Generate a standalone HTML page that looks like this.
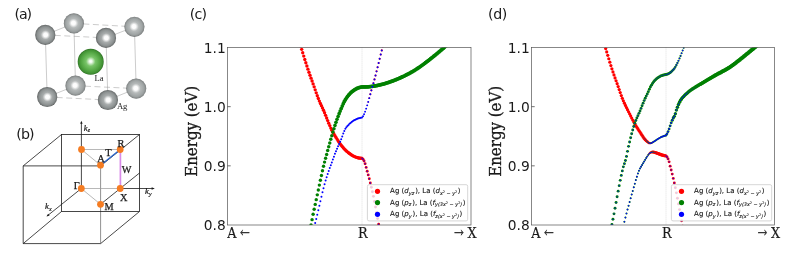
<!DOCTYPE html><html><head><meta charset="utf-8"><title>figure</title><style>html,body{margin:0;padding:0;background:#fff}
svg{display:block}
text{fill:#1a1a1a}
.pl{font-family:"DejaVu Sans","Liberation Sans",sans-serif;font-size:14.2px}
.tk{font-family:"DejaVu Sans","Liberation Sans",sans-serif;font-size:13.8px}
.xl{font-family:"DejaVu Serif Condensed","DejaVu Serif","Liberation Serif",serif;font-stretch:condensed;font-size:14.2px;stroke:#1a1a1a;stroke-width:0.2px}
.yl{font-family:"DejaVu Serif Condensed","DejaVu Serif","Liberation Serif",serif;font-stretch:condensed;font-size:16.7px;stroke:#1a1a1a;stroke-width:0.3px}
.ar{font-size:13px;fill:#333;stroke:#333;stroke-width:0.35px}
.lg{font-family:"DejaVu Sans","Liberation Sans",sans-serif;font-size:7px;stroke:#1a1a1a;stroke-width:0.12px}
.lg .it{font-style:italic}
.lg .sb{font-style:italic;font-size:4.9px}
.lg .ss{font-size:3.4px}
.at{font-family:"Liberation Serif",serif;font-size:8.6px}
.bt{font-family:"Liberation Serif",serif;font-size:10.3px;stroke:#1a1a1a;stroke-width:0.25px}
.kt{font-family:"Liberation Serif",serif;font-size:8.8px;font-style:italic;stroke:#1a1a1a;stroke-width:0.2px}
.ks{font-size:6px}
</style></head><body><svg width="793" height="265" viewBox="0 0 793 265"><rect width="793" height="265" fill="#fff"/><defs>
<radialGradient id="gF" cx="0.5" cy="0.5" r="0.5" fx="0.52" fy="0.5">
<stop offset="0" stop-color="#ffffff"/><stop offset="0.2" stop-color="#fafafa"/><stop offset="0.46" stop-color="#a8acac"/><stop offset="0.8" stop-color="#8c9191"/><stop offset="0.93" stop-color="#747878"/><stop offset="1" stop-color="#505353"/>
</radialGradient>
<radialGradient id="gB" cx="0.5" cy="0.5" r="0.5" fx="0.47" fy="0.48">
<stop offset="0" stop-color="#ffffff"/><stop offset="0.2" stop-color="#fbfbfb"/><stop offset="0.46" stop-color="#b6baba"/><stop offset="0.8" stop-color="#9ea3a3"/><stop offset="0.93" stop-color="#898d8d"/><stop offset="1" stop-color="#6c7070"/>
</radialGradient>
<radialGradient id="gL" cx="0.5" cy="0.5" r="0.5" fx="0.5" fy="0.48">
<stop offset="0" stop-color="#ffffff"/><stop offset="0.1" stop-color="#f0faee"/><stop offset="0.36" stop-color="#78c468"/><stop offset="0.7" stop-color="#55a845"/><stop offset="0.92" stop-color="#3f8f32"/><stop offset="1" stop-color="#2a6a20"/>
</radialGradient>
</defs><line x1="73.9" y1="23.4" x2="134.4" y2="26.8" stroke="#999" stroke-width="0.5" stroke-dasharray="6 3.5"/><line x1="75.5" y1="85.7" x2="136.2" y2="88.6" stroke="#999" stroke-width="0.5" stroke-dasharray="6 3.5"/><line x1="73.9" y1="23.4" x2="75.5" y2="85.7" stroke="#999" stroke-width="0.5"/><line x1="134.4" y1="26.8" x2="136.2" y2="88.6" stroke="#999" stroke-width="0.5"/><line x1="45.3" y1="34.9" x2="73.9" y2="23.4" stroke="#999" stroke-width="0.5"/><line x1="106.0" y1="37.9" x2="134.4" y2="26.8" stroke="#999" stroke-width="0.5"/><line x1="47.2" y1="97.0" x2="75.5" y2="85.7" stroke="#999" stroke-width="0.5"/><line x1="107.9" y1="100.0" x2="136.2" y2="88.6" stroke="#999" stroke-width="0.5"/><circle cx="73.9" cy="23.4" r="10.1" fill="url(#gB)"/><circle cx="134.4" cy="26.8" r="10.1" fill="url(#gB)"/><circle cx="75.5" cy="85.7" r="10.1" fill="url(#gB)"/><circle cx="136.2" cy="88.6" r="10.1" fill="url(#gB)"/><circle cx="90.7" cy="61.8" r="13.0" fill="url(#gL)"/><line x1="45.3" y1="34.9" x2="106.0" y2="37.9" stroke="#999" stroke-width="0.5" stroke-dasharray="6 3.5"/><line x1="47.2" y1="97.0" x2="107.9" y2="100.0" stroke="#999" stroke-width="0.5" stroke-dasharray="6 3.5"/><line x1="45.3" y1="34.9" x2="47.2" y2="97.0" stroke="#999" stroke-width="0.5"/><line x1="106.0" y1="37.9" x2="107.9" y2="100.0" stroke="#999" stroke-width="0.5"/><circle cx="45.3" cy="34.9" r="10.1" fill="url(#gF)"/><circle cx="106.0" cy="37.9" r="10.1" fill="url(#gF)"/><circle cx="47.2" cy="97.0" r="10.1" fill="url(#gF)"/><circle cx="107.9" cy="100.0" r="10.1" fill="url(#gF)"/><text x="94.5" y="80.8" class="at">La</text><text x="116.9" y="109.3" class="at">Ag</text><text x="14.6" y="18.7" class="pl" style="letter-spacing:-1.1px">(a)</text><g stroke="#1a1a1a" stroke-width="0.8" fill="none"><path d="M100.6 165.9L23.2 165.9L23.2 243.6L100.6 243.6"/><path d="M100.6 165.9L100.6 243.6" stroke-width="0.6" stroke="#444"/><rect x="61.5" y="134.5" width="78.0" height="77.0"/><path d="M23.2 165.9L61.5 134.5M100.6 165.9L139.5 134.5M23.2 243.6L61.5 211.5M100.6 243.6L139.5 211.5"/><path d="M100.5 204.3L120.2 188.5L139.5 173.0"/><path d="M81.4 188.5L81.4 122"/><path d="M120.2 188.5L153.5 188.5"/><path d="M81.3 188.5L47.5 215.7" stroke-width="0.8"/></g><path d="M81.4 120.8L80.2 123.8L82.6 123.8Z" fill="#1a1a1a"/><path d="M154.8 188.5L151.6 187.3L151.6 189.7Z" fill="#1a1a1a"/><path d="M46.5 216.5L49.6 215.6L48.1 213.8Z" fill="#1a1a1a"/><g stroke="#9a9a9a" stroke-width="0.7" fill="none"><path d="M81.4 149.5L120.2 149.5M81.4 149.5L100.5 165.2M81.3 188.5L120.2 188.5M81.3 188.5L100.5 204.3"/></g><line x1="100.5" y1="165.2" x2="120.2" y2="149.5" stroke="#2b66cc" stroke-width="1.3"/><line x1="120.4" y1="149.5" x2="120.4" y2="188.5" stroke="#d98be8" stroke-width="1.7"/><circle cx="81.5" cy="149.5" r="3.4" fill="#f57c22"/><circle cx="120.2" cy="149.5" r="3.4" fill="#f57c22"/><circle cx="100.5" cy="165.2" r="3.4" fill="#f57c22"/><circle cx="81.3" cy="188.5" r="3.4" fill="#f57c22"/><circle cx="120.2" cy="188.5" r="3.4" fill="#f57c22"/><circle cx="100.5" cy="204.3" r="3.4" fill="#f57c22"/><text x="117.4" y="146.8" class="bt">R</text><text x="105.2" y="156.3" class="bt">T</text><text x="97.3" y="162.2" class="bt">A</text><text x="121.8" y="173.1" class="bt">W</text><text x="120.0" y="201.4" class="bt">X</text><text x="104.4" y="210.4" class="bt">M</text><text x="73.8" y="189.0" class="bt">Γ</text><text x="83.8" y="130.8" class="kt">k<tspan class="ks" dy="1.3">z</tspan></text><text x="145.0" y="194.3" class="kt">k<tspan class="ks" dy="1.3">y</tspan></text><text x="45.0" y="209.3" class="kt">k<tspan class="ks" dy="1.3">x</tspan></text><text x="16.3" y="139.1" class="pl" style="letter-spacing:-0.9px">(b)</text><clipPath id="cp0"><rect x="227.5" y="47.5" width="243.5" height="177.5"/></clipPath><line x1="362.0" y1="47.5" x2="362.0" y2="225.0" stroke="#c8c8c8" stroke-width="0.7" stroke-dasharray="0.8 1.2"/><g clip-path="url(#cp0)"><g fill="#ff0000"><circle cx="300.64" cy="45.87" r="1.68"/><circle cx="301.68" cy="49.31" r="1.68"/><circle cx="302.72" cy="52.72" r="1.68"/><circle cx="303.76" cy="56.11" r="1.68"/><circle cx="304.80" cy="59.45" r="1.68"/><circle cx="305.84" cy="62.75" r="1.68"/><circle cx="306.88" cy="65.99" r="1.68"/><circle cx="307.92" cy="69.16" r="1.68"/><circle cx="308.96" cy="72.24" r="1.68"/><circle cx="310.00" cy="75.23" r="1.68"/><circle cx="311.04" cy="78.15" r="1.68"/><circle cx="312.08" cy="81.05" r="1.68"/><circle cx="313.12" cy="83.94" r="1.68"/><circle cx="314.16" cy="86.87" r="1.68"/><circle cx="315.20" cy="89.86" r="1.68"/><circle cx="316.24" cy="92.85" r="1.68"/><circle cx="317.28" cy="95.76" r="1.68"/><circle cx="318.32" cy="98.54" r="1.68"/><circle cx="319.36" cy="101.11" r="1.68"/><circle cx="320.40" cy="103.46" r="1.68"/><circle cx="321.44" cy="105.69" r="1.68"/><circle cx="322.48" cy="107.93" r="1.68"/><circle cx="323.52" cy="110.28" r="1.68"/><circle cx="324.56" cy="112.77" r="1.68"/><circle cx="325.60" cy="115.35" r="1.68"/><circle cx="326.64" cy="117.96" r="1.68"/><circle cx="327.68" cy="120.57" r="1.68"/><circle cx="328.72" cy="123.14" r="1.68"/><circle cx="329.76" cy="125.61" r="1.68"/><circle cx="330.80" cy="128.06" r="1.68"/><circle cx="331.84" cy="130.28" r="1.68"/><circle cx="332.88" cy="132.23" r="1.68"/><circle cx="333.92" cy="134.04" r="1.68"/><circle cx="334.96" cy="135.75" r="1.68"/><circle cx="336.00" cy="137.42" r="1.68"/><circle cx="337.04" cy="139.09" r="1.68"/><circle cx="338.08" cy="140.74" r="1.68"/><circle cx="339.12" cy="142.33" r="1.68"/><circle cx="340.16" cy="143.84" r="1.68"/><circle cx="341.20" cy="145.22" r="1.68"/><circle cx="342.24" cy="146.52" r="1.68"/><circle cx="343.28" cy="147.75" r="1.68"/><circle cx="344.32" cy="148.90" r="1.68"/><circle cx="345.36" cy="149.96" r="1.68"/><circle cx="346.40" cy="150.95" r="1.68"/><circle cx="347.44" cy="151.87" r="1.68"/><circle cx="348.48" cy="152.74" r="1.68"/><circle cx="349.52" cy="153.53" r="1.68"/><circle cx="350.56" cy="154.26" r="1.68"/><circle cx="351.60" cy="154.96" r="1.68"/><circle cx="352.64" cy="155.60" r="1.68"/><circle cx="353.68" cy="156.17" r="1.68"/><circle cx="354.72" cy="156.63" r="1.68"/><circle cx="355.76" cy="157.06" r="1.68"/><circle cx="356.80" cy="157.44" r="1.68"/><circle cx="357.84" cy="157.76" r="1.68"/><circle cx="358.88" cy="157.98" r="1.68"/><circle cx="359.92" cy="158.13" r="1.68"/><circle cx="360.96" cy="158.25" r="1.68"/></g><g fill="#ff0000"><circle cx="362.00" cy="158.30" r="1.45"/><circle cx="363.04" cy="159.29" r="1.45"/><circle cx="364.08" cy="161.05" r="1.45"/><circle cx="365.12" cy="163.74" r="1.45"/><circle cx="366.16" cy="167.41" r="1.45"/><circle cx="367.20" cy="171.20" r="1.45"/><circle cx="368.24" cy="174.92" r="1.45"/><circle cx="369.28" cy="178.81" r="1.45"/><circle cx="370.32" cy="182.93" r="1.45"/><circle cx="371.36" cy="187.25" r="1.45"/><circle cx="372.40" cy="191.70" r="1.45"/><circle cx="373.44" cy="196.35" r="1.45"/><circle cx="374.48" cy="201.39" r="1.45"/><circle cx="375.52" cy="206.93" r="1.45"/><circle cx="376.56" cy="212.75" r="1.45"/><circle cx="377.60" cy="218.59" r="1.45"/><circle cx="378.64" cy="224.19" r="1.45"/></g><g fill="#ff0000"><circle cx="365.12" cy="111.66" r="0.20"/><circle cx="366.16" cy="108.65" r="0.38"/><circle cx="367.20" cy="105.34" r="0.56"/><circle cx="368.24" cy="101.89" r="0.74"/><circle cx="369.28" cy="98.13" r="0.92"/><circle cx="370.32" cy="94.19" r="1.05"/><circle cx="371.36" cy="90.34" r="1.05"/><circle cx="372.40" cy="86.78" r="1.05"/><circle cx="373.44" cy="83.23" r="1.05"/><circle cx="374.48" cy="79.42" r="1.05"/><circle cx="375.52" cy="75.45" r="1.05"/><circle cx="376.56" cy="71.36" r="1.05"/><circle cx="377.60" cy="67.18" r="1.05"/><circle cx="378.64" cy="62.96" r="1.05"/><circle cx="379.68" cy="58.73" r="1.05"/><circle cx="380.72" cy="54.53" r="1.05"/><circle cx="381.76" cy="50.39" r="1.05"/><circle cx="382.80" cy="46.34" r="1.05"/></g><g fill="#008000"><circle cx="311.04" cy="224.89" r="1.70"/><circle cx="312.08" cy="219.63" r="1.70"/><circle cx="313.12" cy="214.29" r="1.70"/><circle cx="314.16" cy="209.21" r="1.70"/><circle cx="315.20" cy="204.39" r="1.70"/><circle cx="316.24" cy="199.64" r="1.70"/><circle cx="317.28" cy="194.83" r="1.70"/><circle cx="318.32" cy="189.96" r="1.70"/><circle cx="319.36" cy="185.10" r="1.70"/><circle cx="320.40" cy="180.30" r="1.70"/><circle cx="321.44" cy="175.52" r="1.70"/><circle cx="322.48" cy="170.78" r="1.70"/><circle cx="323.52" cy="166.26" r="1.70"/><circle cx="324.56" cy="162.09" r="1.70"/><circle cx="325.60" cy="158.20" r="1.70"/><circle cx="326.64" cy="154.42" r="1.71"/><circle cx="327.68" cy="150.59" r="1.72"/><circle cx="328.72" cy="146.74" r="1.73"/><circle cx="329.76" cy="142.94" r="1.74"/><circle cx="330.80" cy="139.25" r="1.75"/><circle cx="331.84" cy="135.65" r="1.76"/><circle cx="332.88" cy="132.10" r="1.78"/><circle cx="333.92" cy="128.68" r="1.79"/><circle cx="334.96" cy="125.42" r="1.80"/><circle cx="336.00" cy="122.33" r="1.81"/><circle cx="337.04" cy="119.34" r="1.82"/><circle cx="338.08" cy="116.46" r="1.83"/><circle cx="339.12" cy="113.70" r="1.85"/><circle cx="340.16" cy="111.07" r="1.86"/><circle cx="341.20" cy="108.55" r="1.87"/><circle cx="342.24" cy="106.05" r="1.88"/><circle cx="343.28" cy="103.67" r="1.89"/><circle cx="344.32" cy="101.50" r="1.90"/><circle cx="345.36" cy="99.66" r="1.90"/><circle cx="346.40" cy="98.09" r="1.90"/><circle cx="347.44" cy="96.62" r="1.90"/><circle cx="348.48" cy="95.27" r="1.90"/><circle cx="349.52" cy="94.04" r="1.90"/><circle cx="350.56" cy="92.95" r="1.90"/><circle cx="351.60" cy="91.99" r="1.90"/><circle cx="352.64" cy="91.16" r="1.90"/><circle cx="353.68" cy="90.40" r="1.90"/><circle cx="354.72" cy="89.70" r="1.90"/><circle cx="355.76" cy="89.07" r="1.90"/><circle cx="356.80" cy="88.50" r="1.90"/><circle cx="357.84" cy="88.03" r="1.90"/><circle cx="358.88" cy="87.64" r="1.90"/><circle cx="359.92" cy="87.33" r="1.90"/><circle cx="360.96" cy="87.08" r="1.90"/></g><g fill="#008000"><circle cx="362.00" cy="86.90" r="1.90"/><circle cx="363.04" cy="86.90" r="1.90"/><circle cx="364.08" cy="86.90" r="1.90"/><circle cx="365.12" cy="86.90" r="1.90"/><circle cx="366.16" cy="86.90" r="1.90"/><circle cx="367.20" cy="86.87" r="1.90"/><circle cx="368.24" cy="86.80" r="1.90"/><circle cx="369.28" cy="86.70" r="1.90"/><circle cx="370.32" cy="86.58" r="1.90"/><circle cx="371.36" cy="86.45" r="1.90"/><circle cx="372.40" cy="86.31" r="1.90"/><circle cx="373.44" cy="86.17" r="1.90"/><circle cx="374.48" cy="86.01" r="1.90"/><circle cx="375.52" cy="85.84" r="1.90"/><circle cx="376.56" cy="85.64" r="1.90"/><circle cx="377.60" cy="85.42" r="1.90"/><circle cx="378.64" cy="85.19" r="1.90"/><circle cx="379.68" cy="84.95" r="1.90"/><circle cx="380.72" cy="84.70" r="1.90"/><circle cx="381.76" cy="84.44" r="1.90"/><circle cx="382.80" cy="84.17" r="1.90"/><circle cx="383.84" cy="83.89" r="1.90"/><circle cx="384.88" cy="83.59" r="1.90"/><circle cx="385.92" cy="83.27" r="1.90"/><circle cx="386.96" cy="82.93" r="1.90"/><circle cx="388.00" cy="82.59" r="1.90"/><circle cx="389.04" cy="82.23" r="1.90"/><circle cx="390.08" cy="81.87" r="1.90"/><circle cx="391.12" cy="81.51" r="1.90"/><circle cx="392.16" cy="81.13" r="1.90"/><circle cx="393.20" cy="80.74" r="1.90"/><circle cx="394.24" cy="80.34" r="1.90"/><circle cx="395.28" cy="79.93" r="1.90"/><circle cx="396.32" cy="79.51" r="1.90"/><circle cx="397.36" cy="79.08" r="1.90"/><circle cx="398.40" cy="78.65" r="1.90"/><circle cx="399.44" cy="78.20" r="1.90"/><circle cx="400.48" cy="77.73" r="1.90"/><circle cx="401.52" cy="77.26" r="1.90"/><circle cx="402.56" cy="76.77" r="1.90"/><circle cx="403.60" cy="76.28" r="1.90"/><circle cx="404.64" cy="75.78" r="1.90"/><circle cx="405.68" cy="75.26" r="1.90"/><circle cx="406.72" cy="74.74" r="1.90"/><circle cx="407.76" cy="74.20" r="1.90"/><circle cx="408.80" cy="73.65" r="1.90"/><circle cx="409.84" cy="73.09" r="1.90"/><circle cx="410.88" cy="72.51" r="1.90"/><circle cx="411.92" cy="71.92" r="1.90"/><circle cx="412.96" cy="71.31" r="1.90"/><circle cx="414.00" cy="70.68" r="1.90"/><circle cx="415.04" cy="70.04" r="1.90"/><circle cx="416.08" cy="69.37" r="1.90"/><circle cx="417.12" cy="68.69" r="1.90"/><circle cx="418.16" cy="67.99" r="1.90"/><circle cx="419.20" cy="67.28" r="1.90"/><circle cx="420.24" cy="66.55" r="1.90"/><circle cx="421.28" cy="65.81" r="1.90"/><circle cx="422.32" cy="65.07" r="1.90"/><circle cx="423.36" cy="64.31" r="1.90"/><circle cx="424.40" cy="63.55" r="1.90"/><circle cx="425.44" cy="62.77" r="1.90"/><circle cx="426.48" cy="61.98" r="1.90"/><circle cx="427.52" cy="61.18" r="1.90"/><circle cx="428.56" cy="60.38" r="1.90"/><circle cx="429.60" cy="59.57" r="1.90"/><circle cx="430.64" cy="58.75" r="1.90"/><circle cx="431.68" cy="57.93" r="1.90"/><circle cx="432.72" cy="57.10" r="1.90"/><circle cx="433.76" cy="56.26" r="1.90"/><circle cx="434.80" cy="55.41" r="1.90"/><circle cx="435.84" cy="54.56" r="1.90"/><circle cx="436.88" cy="53.70" r="1.90"/><circle cx="437.92" cy="52.83" r="1.90"/><circle cx="438.96" cy="51.96" r="1.90"/><circle cx="440.00" cy="51.08" r="1.90"/><circle cx="441.04" cy="50.19" r="1.90"/><circle cx="442.08" cy="49.29" r="1.90"/><circle cx="443.12" cy="48.39" r="1.90"/><circle cx="444.16" cy="47.49" r="1.90"/><circle cx="445.20" cy="46.58" r="1.90"/><circle cx="446.24" cy="45.66" r="1.90"/><circle cx="447.28" cy="44.74" r="1.90"/></g><g fill="#0000ff"><circle cx="314.16" cy="227.31" r="1.00"/><circle cx="315.20" cy="223.08" r="1.00"/><circle cx="316.24" cy="218.90" r="1.00"/><circle cx="317.28" cy="214.70" r="1.00"/><circle cx="318.32" cy="210.37" r="1.00"/><circle cx="319.36" cy="205.82" r="1.00"/><circle cx="320.40" cy="201.22" r="1.00"/><circle cx="321.44" cy="196.76" r="1.00"/><circle cx="322.48" cy="192.36" r="1.00"/><circle cx="323.52" cy="188.15" r="1.00"/><circle cx="324.56" cy="184.27" r="1.00"/><circle cx="325.60" cy="180.61" r="1.00"/><circle cx="326.64" cy="177.16" r="1.00"/><circle cx="327.68" cy="173.95" r="1.00"/><circle cx="328.72" cy="170.96" r="1.00"/><circle cx="329.76" cy="168.12" r="1.00"/><circle cx="330.80" cy="165.34" r="1.00"/><circle cx="331.84" cy="162.51" r="1.00"/><circle cx="332.88" cy="159.62" r="1.00"/><circle cx="333.92" cy="156.71" r="1.00"/><circle cx="334.96" cy="153.87" r="1.00"/><circle cx="336.00" cy="151.15" r="1.00"/><circle cx="337.04" cy="148.63" r="1.00"/><circle cx="338.08" cy="146.28" r="1.00"/><circle cx="339.12" cy="143.99" r="1.00"/><circle cx="340.16" cy="141.68" r="1.00"/><circle cx="341.20" cy="139.22" r="1.00"/><circle cx="342.24" cy="136.42" r="1.00"/><circle cx="343.28" cy="133.54" r="1.00"/><circle cx="344.32" cy="130.91" r="1.00"/><circle cx="345.36" cy="128.86" r="1.00"/><circle cx="346.40" cy="127.35" r="1.00"/><circle cx="347.44" cy="126.03" r="1.00"/><circle cx="348.48" cy="124.88" r="1.00"/><circle cx="349.52" cy="123.87" r="1.00"/><circle cx="350.56" cy="122.96" r="1.00"/><circle cx="351.60" cy="122.12" r="1.00"/><circle cx="352.64" cy="121.34" r="1.00"/><circle cx="353.68" cy="120.62" r="1.00"/><circle cx="354.72" cy="119.97" r="1.00"/><circle cx="355.76" cy="119.41" r="1.00"/><circle cx="356.80" cy="118.96" r="1.00"/><circle cx="357.84" cy="118.57" r="1.00"/><circle cx="358.88" cy="118.21" r="1.00"/><circle cx="359.92" cy="117.91" r="1.00"/><circle cx="360.96" cy="117.66" r="1.00"/></g><g fill="#0000ff"><circle cx="362.00" cy="117.50" r="0.95"/><circle cx="363.04" cy="116.25" r="0.95"/><circle cx="364.08" cy="114.25" r="0.95"/><circle cx="365.12" cy="111.66" r="0.95"/><circle cx="366.16" cy="108.65" r="0.95"/><circle cx="367.20" cy="105.34" r="0.95"/><circle cx="368.24" cy="101.89" r="0.95"/><circle cx="369.28" cy="98.13" r="0.95"/><circle cx="370.32" cy="94.19" r="0.95"/><circle cx="371.36" cy="90.34" r="0.95"/><circle cx="372.40" cy="86.78" r="0.95"/><circle cx="373.44" cy="83.23" r="0.95"/><circle cx="374.48" cy="79.42" r="0.95"/><circle cx="375.52" cy="75.45" r="0.95"/><circle cx="376.56" cy="71.36" r="0.95"/><circle cx="377.60" cy="67.18" r="0.95"/><circle cx="378.64" cy="62.96" r="0.95"/><circle cx="379.68" cy="58.73" r="0.95"/><circle cx="380.72" cy="54.53" r="0.95"/><circle cx="381.76" cy="50.39" r="0.95"/><circle cx="382.80" cy="46.34" r="0.95"/></g><g fill="#0000ff"><circle cx="362.00" cy="158.30" r="0.70"/><circle cx="363.04" cy="159.29" r="0.70"/><circle cx="364.08" cy="161.05" r="0.70"/><circle cx="365.12" cy="163.74" r="0.70"/><circle cx="366.16" cy="167.41" r="0.70"/><circle cx="367.20" cy="171.20" r="0.70"/><circle cx="368.24" cy="174.92" r="0.70"/><circle cx="369.28" cy="178.81" r="0.70"/><circle cx="370.32" cy="182.93" r="0.70"/><circle cx="371.36" cy="187.25" r="0.70"/><circle cx="372.40" cy="191.70" r="0.70"/><circle cx="373.44" cy="196.35" r="0.70"/><circle cx="374.48" cy="201.39" r="0.70"/><circle cx="375.52" cy="206.93" r="0.70"/><circle cx="376.56" cy="212.75" r="0.70"/><circle cx="377.60" cy="218.59" r="0.70"/><circle cx="378.64" cy="224.19" r="0.70"/></g></g><rect x="367.4" y="184.7" width="100.3" height="36.2" rx="1.6" fill="#fff" fill-opacity="0.8" stroke="#ccc" stroke-width="0.8"/><circle cx="377.5" cy="191.3" r="2.6" fill="#ff0000"/><text x="390.1" y="193.2" class="lg"><tspan>Ag (</tspan><tspan class="it">d</tspan><tspan class="sb" dy="1.40">yz</tspan><tspan dy="-1.40" dx="0.90">), La (</tspan><tspan class="it">d</tspan><tspan class="sb" dy="1.40">x</tspan><tspan class="ss" dy="-1.60">2</tspan><tspan class="sb" dy="1.60"> − y</tspan><tspan class="ss" dy="-1.60">2</tspan><tspan dy="0.20" dx="0.50">)</tspan></text><circle cx="377.5" cy="202.6" r="2.6" fill="#008000"/><text x="390.1" y="204.5" class="lg"><tspan>Ag (</tspan><tspan class="it">p</tspan><tspan class="sb" dy="1.40">z</tspan><tspan dy="-1.40" dx="0.90">), La (</tspan><tspan class="it">f</tspan><tspan class="sb" dy="1.40">y(3x</tspan><tspan class="ss" dy="-1.60">2</tspan><tspan class="sb" dy="1.60"> − y</tspan><tspan class="ss" dy="-1.60">2</tspan><tspan class="sb" dy="1.60">)</tspan><tspan dy="-1.40" dx="0.50">)</tspan></text><circle cx="377.5" cy="214.3" r="2.6" fill="#0000ff"/><text x="390.1" y="216.2" class="lg"><tspan>Ag (</tspan><tspan class="it">p</tspan><tspan class="sb" dy="1.40">y</tspan><tspan dy="-1.40" dx="0.90">), La (</tspan><tspan class="it">f</tspan><tspan class="sb" dy="1.40">z(x</tspan><tspan class="ss" dy="-1.60">2</tspan><tspan class="sb" dy="1.60"> − y</tspan><tspan class="ss" dy="-1.60">2</tspan><tspan class="sb" dy="1.60">)</tspan><tspan dy="-1.40" dx="0.50">)</tspan></text><rect x="227.5" y="47.5" width="243.5" height="177.5" fill="none" stroke="#555" stroke-width="0.7"/><text x="225.7" y="52.60" text-anchor="end" class="tk">1.1</text><line x1="227.5" y1="106.67" x2="230.7" y2="106.67" stroke="#333" stroke-width="0.7"/><text x="225.7" y="111.77" text-anchor="end" class="tk">1.0</text><line x1="227.5" y1="165.83" x2="230.7" y2="165.83" stroke="#333" stroke-width="0.7"/><text x="225.7" y="170.93" text-anchor="end" class="tk">0.9</text><text x="225.7" y="230.10" text-anchor="end" class="tk">0.8</text><text x="227.2" y="237.7" class="xl">A</text><text x="240.1" y="237.2" class="xl ar">←</text><text x="362.7" y="237.7" class="xl" text-anchor="middle">R</text><text x="476.6" y="237.7" class="xl" text-anchor="end">X</text><text x="463.7" y="237.2" class="xl ar" text-anchor="end">→</text><text transform="translate(196.5,131.3) rotate(-90)" text-anchor="middle" class="yl">Energy (eV)</text><text x="189.7" y="18.7" class="pl" style="letter-spacing:-0.8px">(c)</text><clipPath id="cp304"><rect x="531.5" y="47.5" width="243.0" height="177.5"/></clipPath><line x1="666.0" y1="47.5" x2="666.0" y2="225.0" stroke="#c8c8c8" stroke-width="0.7" stroke-dasharray="0.8 1.2"/><g clip-path="url(#cp304)"><g fill="#ff0000"><circle cx="604.64" cy="45.39" r="1.60"/><circle cx="605.68" cy="48.58" r="1.60"/><circle cx="606.72" cy="51.91" r="1.60"/><circle cx="607.76" cy="55.32" r="1.60"/><circle cx="608.80" cy="58.77" r="1.60"/><circle cx="609.84" cy="62.21" r="1.60"/><circle cx="610.88" cy="65.58" r="1.60"/><circle cx="611.92" cy="68.85" r="1.60"/><circle cx="612.96" cy="71.96" r="1.60"/><circle cx="614.00" cy="74.96" r="1.60"/><circle cx="615.04" cy="77.89" r="1.60"/><circle cx="616.08" cy="80.77" r="1.60"/><circle cx="617.12" cy="83.66" r="1.60"/><circle cx="618.16" cy="86.59" r="1.60"/><circle cx="619.20" cy="89.59" r="1.60"/><circle cx="620.24" cy="92.60" r="1.60"/><circle cx="621.28" cy="95.53" r="1.60"/><circle cx="622.32" cy="98.31" r="1.60"/><circle cx="623.36" cy="100.85" r="1.60"/><circle cx="624.40" cy="103.19" r="1.60"/><circle cx="625.44" cy="105.40" r="1.60"/><circle cx="626.48" cy="107.53" r="1.60"/><circle cx="627.52" cy="109.63" r="1.60"/><circle cx="628.56" cy="111.75" r="1.60"/><circle cx="629.60" cy="113.86" r="1.60"/><circle cx="630.64" cy="115.95" r="1.60"/><circle cx="631.68" cy="117.99" r="1.60"/><circle cx="632.72" cy="119.99" r="1.60"/><circle cx="633.76" cy="121.92" r="1.60"/><circle cx="634.80" cy="123.77" r="1.61"/><circle cx="635.84" cy="125.55" r="1.61"/><circle cx="636.88" cy="127.26" r="1.62"/><circle cx="637.92" cy="128.92" r="1.63"/><circle cx="638.96" cy="130.53" r="1.63"/><circle cx="640.00" cy="132.10" r="1.64"/><circle cx="641.04" cy="133.67" r="1.64"/><circle cx="642.08" cy="135.29" r="1.64"/><circle cx="643.12" cy="136.89" r="1.63"/><circle cx="644.16" cy="138.38" r="1.61"/><circle cx="645.20" cy="139.69" r="1.58"/><circle cx="646.24" cy="140.72" r="1.53"/><circle cx="647.28" cy="141.67" r="1.46"/><circle cx="648.32" cy="142.53" r="1.35"/><circle cx="649.36" cy="143.13" r="1.22"/><circle cx="650.40" cy="143.29" r="1.07"/><circle cx="651.44" cy="143.00" r="0.92"/><circle cx="652.48" cy="142.43" r="0.77"/><circle cx="653.52" cy="141.78" r="0.63"/><circle cx="654.56" cy="141.18" r="0.51"/><circle cx="655.60" cy="140.53" r="0.41"/><circle cx="656.64" cy="139.83" r="0.33"/><circle cx="657.68" cy="139.12" r="0.26"/><circle cx="658.72" cy="138.46" r="0.21"/><circle cx="659.76" cy="137.87" r="0.16"/><circle cx="660.80" cy="137.35" r="0.13"/><circle cx="661.84" cy="136.87" r="0.10"/><circle cx="662.88" cy="136.42" r="0.08"/><circle cx="663.92" cy="136.01" r="0.06"/><circle cx="664.96" cy="135.63" r="0.05"/></g><g fill="#ff0000"><circle cx="636.88" cy="176.66" r="0.05"/><circle cx="637.92" cy="173.51" r="0.07"/><circle cx="638.96" cy="170.78" r="0.09"/><circle cx="640.00" cy="168.55" r="0.11"/><circle cx="641.04" cy="166.66" r="0.14"/><circle cx="642.08" cy="164.97" r="0.19"/><circle cx="643.12" cy="163.32" r="0.24"/><circle cx="644.16" cy="161.58" r="0.31"/><circle cx="645.20" cy="159.75" r="0.40"/><circle cx="646.24" cy="157.98" r="0.51"/><circle cx="647.28" cy="156.39" r="0.64"/><circle cx="648.32" cy="154.86" r="0.80"/><circle cx="649.36" cy="153.51" r="0.97"/><circle cx="650.40" cy="152.69" r="1.14"/><circle cx="651.44" cy="152.20" r="1.30"/><circle cx="652.48" cy="152.00" r="1.44"/><circle cx="653.52" cy="152.11" r="1.54"/><circle cx="654.56" cy="152.37" r="1.62"/><circle cx="655.60" cy="152.69" r="1.67"/><circle cx="656.64" cy="153.00" r="1.70"/><circle cx="657.68" cy="153.38" r="1.72"/><circle cx="658.72" cy="153.81" r="1.73"/><circle cx="659.76" cy="154.24" r="1.74"/><circle cx="660.80" cy="154.60" r="1.74"/><circle cx="661.84" cy="154.91" r="1.75"/><circle cx="662.88" cy="155.19" r="1.75"/><circle cx="663.92" cy="155.46" r="1.75"/><circle cx="664.96" cy="155.69" r="1.75"/></g><g fill="#ff0000"><circle cx="666.00" cy="155.90" r="1.45"/><circle cx="667.04" cy="156.97" r="1.45"/><circle cx="668.08" cy="158.90" r="1.45"/><circle cx="669.12" cy="161.86" r="1.45"/><circle cx="670.16" cy="166.15" r="1.45"/><circle cx="671.20" cy="170.00" r="1.45"/><circle cx="672.24" cy="174.10" r="1.45"/><circle cx="673.28" cy="178.40" r="1.45"/><circle cx="674.32" cy="182.91" r="1.45"/><circle cx="675.36" cy="187.69" r="1.45"/><circle cx="676.40" cy="192.83" r="1.45"/><circle cx="677.44" cy="198.26" r="1.45"/><circle cx="678.48" cy="203.88" r="1.45"/><circle cx="679.52" cy="209.59" r="1.45"/><circle cx="680.56" cy="215.29" r="1.45"/><circle cx="681.60" cy="220.87" r="1.45"/><circle cx="682.64" cy="226.23" r="1.45"/></g><g fill="#008000"><circle cx="611.92" cy="224.40" r="1.45"/><circle cx="612.96" cy="219.26" r="1.45"/><circle cx="614.00" cy="213.84" r="1.45"/><circle cx="615.04" cy="208.24" r="1.45"/><circle cx="616.08" cy="202.53" r="1.45"/><circle cx="617.12" cy="196.80" r="1.45"/><circle cx="618.16" cy="191.14" r="1.45"/><circle cx="619.20" cy="185.63" r="1.45"/><circle cx="620.24" cy="180.36" r="1.45"/><circle cx="621.28" cy="175.41" r="1.45"/><circle cx="622.32" cy="170.88" r="1.45"/><circle cx="623.36" cy="166.84" r="1.45"/><circle cx="624.40" cy="163.63" r="1.45"/><circle cx="625.44" cy="160.56" r="1.45"/><circle cx="626.48" cy="156.38" r="1.45"/><circle cx="627.52" cy="151.37" r="1.45"/><circle cx="628.56" cy="146.35" r="1.45"/><circle cx="629.60" cy="141.96" r="1.45"/><circle cx="630.64" cy="137.80" r="1.45"/><circle cx="631.68" cy="133.78" r="1.45"/><circle cx="632.72" cy="129.98" r="1.45"/><circle cx="633.76" cy="126.47" r="1.45"/><circle cx="634.80" cy="123.31" r="1.45"/><circle cx="635.84" cy="120.53" r="1.45"/><circle cx="636.88" cy="118.01" r="1.45"/><circle cx="637.92" cy="115.65" r="1.45"/><circle cx="638.96" cy="113.34" r="1.45"/><circle cx="640.00" cy="110.96" r="1.45"/><circle cx="641.04" cy="108.41" r="1.45"/><circle cx="642.08" cy="105.77" r="1.45"/><circle cx="643.12" cy="103.14" r="1.45"/><circle cx="644.16" cy="100.62" r="1.45"/><circle cx="645.20" cy="98.29" r="1.45"/><circle cx="646.24" cy="96.08" r="1.45"/><circle cx="647.28" cy="93.90" r="1.45"/><circle cx="648.32" cy="91.63" r="1.45"/><circle cx="649.36" cy="89.25" r="1.45"/><circle cx="650.40" cy="87.02" r="1.45"/><circle cx="651.44" cy="85.16" r="1.45"/><circle cx="652.48" cy="83.52" r="1.45"/><circle cx="653.52" cy="82.07" r="1.45"/><circle cx="654.56" cy="80.82" r="1.45"/><circle cx="655.60" cy="79.71" r="1.45"/><circle cx="656.64" cy="78.72" r="1.45"/><circle cx="657.68" cy="77.89" r="1.45"/><circle cx="658.72" cy="77.19" r="1.45"/><circle cx="659.76" cy="76.58" r="1.45"/><circle cx="660.80" cy="76.07" r="1.45"/><circle cx="661.84" cy="75.65" r="1.45"/><circle cx="662.88" cy="75.29" r="1.45"/><circle cx="663.92" cy="74.98" r="1.45"/><circle cx="664.96" cy="74.71" r="1.45"/></g><g fill="#008000"><circle cx="666.00" cy="74.50" r="1.45"/><circle cx="667.04" cy="74.26" r="1.45"/><circle cx="668.08" cy="73.88" r="1.45"/><circle cx="669.12" cy="73.37" r="1.41"/><circle cx="670.16" cy="72.64" r="1.38"/><circle cx="671.20" cy="71.81" r="1.35"/><circle cx="672.24" cy="70.86" r="1.31"/><circle cx="673.28" cy="69.77" r="1.28"/><circle cx="674.32" cy="68.47" r="1.25"/><circle cx="675.36" cy="66.84" r="1.21"/><circle cx="676.40" cy="64.95" r="1.18"/><circle cx="677.44" cy="62.92" r="1.15"/><circle cx="678.48" cy="60.75" r="1.11"/><circle cx="679.52" cy="58.38" r="1.08"/><circle cx="680.56" cy="55.89" r="1.05"/><circle cx="681.60" cy="53.28" r="1.01"/><circle cx="682.64" cy="50.51" r="1.00"/><circle cx="683.68" cy="47.66" r="1.00"/><circle cx="684.72" cy="44.73" r="1.00"/></g><g fill="#008000"><circle cx="642.08" cy="135.29" r="0.26"/><circle cx="643.12" cy="136.89" r="0.31"/><circle cx="644.16" cy="138.38" r="0.37"/><circle cx="645.20" cy="139.69" r="0.43"/><circle cx="646.24" cy="140.72" r="0.51"/><circle cx="647.28" cy="141.67" r="0.58"/><circle cx="648.32" cy="142.53" r="0.66"/><circle cx="649.36" cy="143.13" r="0.73"/><circle cx="650.40" cy="143.29" r="0.79"/><circle cx="651.44" cy="143.00" r="0.85"/><circle cx="652.48" cy="142.43" r="0.89"/><circle cx="653.52" cy="141.78" r="0.92"/><circle cx="654.56" cy="141.18" r="0.95"/><circle cx="655.60" cy="140.53" r="0.96"/><circle cx="656.64" cy="139.83" r="0.97"/><circle cx="657.68" cy="139.12" r="0.98"/><circle cx="658.72" cy="138.46" r="0.99"/><circle cx="659.76" cy="137.87" r="0.99"/><circle cx="660.80" cy="137.35" r="0.99"/><circle cx="661.84" cy="136.87" r="1.00"/><circle cx="662.88" cy="136.42" r="1.00"/><circle cx="663.92" cy="136.01" r="1.00"/><circle cx="664.96" cy="135.63" r="1.00"/></g><g fill="#008000"><circle cx="666.00" cy="135.30" r="1.25"/><circle cx="667.04" cy="133.71" r="1.30"/><circle cx="668.08" cy="131.55" r="1.34"/><circle cx="669.12" cy="128.95" r="1.39"/><circle cx="670.16" cy="125.83" r="1.44"/><circle cx="671.20" cy="122.87" r="1.49"/><circle cx="672.24" cy="120.21" r="1.53"/><circle cx="673.28" cy="117.94" r="1.58"/><circle cx="674.32" cy="116.33" r="1.63"/><circle cx="675.36" cy="113.66" r="1.68"/><circle cx="676.40" cy="110.11" r="1.72"/><circle cx="677.44" cy="107.15" r="1.75"/><circle cx="678.48" cy="104.53" r="1.75"/><circle cx="679.52" cy="102.20" r="1.75"/><circle cx="680.56" cy="100.35" r="1.75"/><circle cx="681.60" cy="98.86" r="1.75"/><circle cx="682.64" cy="97.57" r="1.75"/><circle cx="683.68" cy="96.43" r="1.75"/><circle cx="684.72" cy="95.37" r="1.75"/><circle cx="685.76" cy="94.35" r="1.75"/><circle cx="686.80" cy="93.38" r="1.75"/><circle cx="687.84" cy="92.47" r="1.75"/><circle cx="688.88" cy="91.62" r="1.75"/><circle cx="689.92" cy="90.81" r="1.75"/><circle cx="690.96" cy="90.04" r="1.76"/><circle cx="692.00" cy="89.31" r="1.77"/><circle cx="693.04" cy="88.61" r="1.78"/><circle cx="694.08" cy="87.95" r="1.78"/><circle cx="695.12" cy="87.30" r="1.79"/><circle cx="696.16" cy="86.66" r="1.80"/><circle cx="697.20" cy="86.02" r="1.81"/><circle cx="698.24" cy="85.39" r="1.82"/><circle cx="699.28" cy="84.77" r="1.83"/><circle cx="700.32" cy="84.16" r="1.84"/><circle cx="701.36" cy="83.56" r="1.84"/><circle cx="702.40" cy="82.96" r="1.85"/><circle cx="703.44" cy="82.35" r="1.86"/><circle cx="704.48" cy="81.73" r="1.87"/><circle cx="705.52" cy="81.11" r="1.88"/><circle cx="706.56" cy="80.48" r="1.89"/><circle cx="707.60" cy="79.84" r="1.90"/><circle cx="708.64" cy="79.21" r="1.91"/><circle cx="709.68" cy="78.58" r="1.91"/><circle cx="710.72" cy="77.97" r="1.92"/><circle cx="711.76" cy="77.35" r="1.93"/><circle cx="712.80" cy="76.75" r="1.94"/><circle cx="713.84" cy="76.14" r="1.95"/><circle cx="714.88" cy="75.54" r="1.96"/><circle cx="715.92" cy="74.95" r="1.97"/><circle cx="716.96" cy="74.37" r="1.97"/><circle cx="718.00" cy="73.79" r="1.98"/><circle cx="719.04" cy="73.23" r="1.99"/><circle cx="720.08" cy="72.68" r="2.00"/><circle cx="721.12" cy="72.14" r="2.00"/><circle cx="722.16" cy="71.60" r="2.00"/><circle cx="723.20" cy="71.04" r="2.00"/><circle cx="724.24" cy="70.47" r="2.00"/><circle cx="725.28" cy="69.88" r="2.00"/><circle cx="726.32" cy="69.29" r="2.00"/><circle cx="727.36" cy="68.69" r="2.00"/><circle cx="728.40" cy="68.07" r="2.00"/><circle cx="729.44" cy="67.43" r="2.00"/><circle cx="730.48" cy="66.75" r="2.00"/><circle cx="731.52" cy="66.03" r="2.00"/><circle cx="732.56" cy="65.28" r="2.00"/><circle cx="733.60" cy="64.51" r="2.00"/><circle cx="734.64" cy="63.72" r="2.00"/><circle cx="735.68" cy="62.92" r="2.00"/><circle cx="736.72" cy="62.12" r="2.00"/><circle cx="737.76" cy="61.31" r="2.00"/><circle cx="738.80" cy="60.50" r="2.00"/><circle cx="739.84" cy="59.67" r="2.00"/><circle cx="740.88" cy="58.84" r="2.00"/><circle cx="741.92" cy="58.00" r="2.00"/><circle cx="742.96" cy="57.16" r="2.00"/><circle cx="744.00" cy="56.31" r="2.00"/><circle cx="745.04" cy="55.46" r="2.00"/><circle cx="746.08" cy="54.60" r="2.00"/><circle cx="747.12" cy="53.74" r="2.00"/><circle cx="748.16" cy="52.89" r="2.00"/><circle cx="749.20" cy="52.04" r="2.00"/><circle cx="750.24" cy="51.19" r="2.00"/><circle cx="751.28" cy="50.35" r="2.00"/><circle cx="752.32" cy="49.52" r="2.00"/><circle cx="753.36" cy="48.67" r="2.00"/><circle cx="754.40" cy="47.83" r="2.00"/><circle cx="755.44" cy="46.97" r="2.00"/><circle cx="756.48" cy="46.12" r="2.00"/><circle cx="757.52" cy="45.25" r="2.00"/></g><g fill="#008000"><circle cx="624.40" cy="221.70" r="1.00"/><circle cx="625.44" cy="217.60" r="1.00"/><circle cx="626.48" cy="213.57" r="1.00"/><circle cx="627.52" cy="209.62" r="1.00"/><circle cx="628.56" cy="205.75" r="1.00"/><circle cx="629.60" cy="201.94" r="1.00"/><circle cx="630.64" cy="198.21" r="1.00"/><circle cx="631.68" cy="194.55" r="1.00"/><circle cx="632.72" cy="190.96" r="1.00"/><circle cx="633.76" cy="187.37" r="1.00"/><circle cx="634.80" cy="183.72" r="1.00"/><circle cx="635.84" cy="180.11" r="1.00"/><circle cx="636.88" cy="176.66" r="1.00"/><circle cx="637.92" cy="173.51" r="1.00"/><circle cx="638.96" cy="170.78" r="1.00"/><circle cx="640.00" cy="168.55" r="1.00"/><circle cx="641.04" cy="166.66" r="1.00"/><circle cx="642.08" cy="164.97" r="1.00"/><circle cx="643.12" cy="163.32" r="0.99"/><circle cx="644.16" cy="161.58" r="0.99"/><circle cx="645.20" cy="159.75" r="0.98"/><circle cx="646.24" cy="157.98" r="0.97"/><circle cx="647.28" cy="156.39" r="0.94"/><circle cx="648.32" cy="154.86" r="0.91"/><circle cx="649.36" cy="153.51" r="0.86"/><circle cx="650.40" cy="152.69" r="0.80"/><circle cx="651.44" cy="152.20" r="0.71"/><circle cx="652.48" cy="152.00" r="0.62"/><circle cx="653.52" cy="152.11" r="0.52"/><circle cx="654.56" cy="152.37" r="0.42"/><circle cx="655.60" cy="152.69" r="0.34"/><circle cx="656.64" cy="153.00" r="0.27"/></g><g fill="#0000ff"><circle cx="611.92" cy="224.40" r="0.62"/><circle cx="612.96" cy="219.26" r="0.62"/><circle cx="614.00" cy="213.84" r="0.62"/><circle cx="615.04" cy="208.24" r="0.62"/><circle cx="616.08" cy="202.53" r="0.62"/><circle cx="617.12" cy="196.80" r="0.62"/><circle cx="618.16" cy="191.14" r="0.62"/><circle cx="619.20" cy="185.63" r="0.62"/><circle cx="620.24" cy="180.36" r="0.62"/><circle cx="621.28" cy="175.41" r="0.62"/><circle cx="622.32" cy="170.88" r="0.62"/><circle cx="623.36" cy="166.84" r="0.62"/><circle cx="624.40" cy="163.63" r="0.62"/><circle cx="625.44" cy="160.56" r="0.62"/><circle cx="626.48" cy="156.38" r="0.62"/><circle cx="627.52" cy="151.37" r="0.62"/><circle cx="628.56" cy="146.35" r="0.62"/><circle cx="629.60" cy="141.96" r="0.62"/><circle cx="630.64" cy="137.80" r="0.62"/><circle cx="631.68" cy="133.78" r="0.62"/><circle cx="632.72" cy="129.98" r="0.62"/><circle cx="633.76" cy="126.47" r="0.62"/><circle cx="634.80" cy="123.31" r="0.62"/><circle cx="635.84" cy="120.53" r="0.62"/><circle cx="636.88" cy="118.01" r="0.61"/><circle cx="637.92" cy="115.65" r="0.60"/><circle cx="638.96" cy="113.34" r="0.59"/><circle cx="640.00" cy="110.96" r="0.58"/><circle cx="641.04" cy="108.41" r="0.57"/><circle cx="642.08" cy="105.77" r="0.55"/><circle cx="643.12" cy="103.14" r="0.54"/><circle cx="644.16" cy="100.62" r="0.53"/><circle cx="645.20" cy="98.29" r="0.52"/><circle cx="646.24" cy="96.08" r="0.51"/><circle cx="647.28" cy="93.90" r="0.50"/><circle cx="648.32" cy="91.63" r="0.49"/><circle cx="649.36" cy="89.25" r="0.48"/><circle cx="650.40" cy="87.02" r="0.47"/><circle cx="651.44" cy="85.16" r="0.47"/><circle cx="652.48" cy="83.52" r="0.47"/><circle cx="653.52" cy="82.07" r="0.47"/><circle cx="654.56" cy="80.82" r="0.47"/><circle cx="655.60" cy="79.71" r="0.47"/><circle cx="656.64" cy="78.72" r="0.47"/><circle cx="657.68" cy="77.89" r="0.47"/><circle cx="658.72" cy="77.19" r="0.47"/><circle cx="659.76" cy="76.58" r="0.47"/><circle cx="660.80" cy="76.07" r="0.47"/><circle cx="661.84" cy="75.65" r="0.47"/><circle cx="662.88" cy="75.29" r="0.47"/><circle cx="663.92" cy="74.98" r="0.47"/><circle cx="664.96" cy="74.71" r="0.47"/></g><g fill="#0000ff"><circle cx="666.00" cy="74.50" r="0.50"/><circle cx="667.04" cy="74.26" r="0.52"/><circle cx="668.08" cy="73.88" r="0.55"/><circle cx="669.12" cy="73.37" r="0.57"/><circle cx="670.16" cy="72.64" r="0.59"/><circle cx="671.20" cy="71.81" r="0.61"/><circle cx="672.24" cy="70.86" r="0.64"/><circle cx="673.28" cy="69.77" r="0.66"/><circle cx="674.32" cy="68.47" r="0.68"/><circle cx="675.36" cy="66.84" r="0.71"/><circle cx="676.40" cy="64.95" r="0.72"/><circle cx="677.44" cy="62.92" r="0.72"/><circle cx="678.48" cy="60.75" r="0.72"/><circle cx="679.52" cy="58.38" r="0.72"/><circle cx="680.56" cy="55.89" r="0.72"/><circle cx="681.60" cy="53.28" r="0.72"/><circle cx="682.64" cy="50.51" r="0.72"/><circle cx="683.68" cy="47.66" r="0.72"/><circle cx="684.72" cy="44.73" r="0.72"/></g><g fill="#0000ff"><circle cx="634.80" cy="123.77" r="0.05"/><circle cx="635.84" cy="125.55" r="0.06"/><circle cx="636.88" cy="127.26" r="0.08"/><circle cx="637.92" cy="128.92" r="0.09"/><circle cx="638.96" cy="130.53" r="0.11"/><circle cx="640.00" cy="132.10" r="0.14"/><circle cx="641.04" cy="133.67" r="0.17"/><circle cx="642.08" cy="135.29" r="0.20"/><circle cx="643.12" cy="136.89" r="0.25"/><circle cx="644.16" cy="138.38" r="0.29"/><circle cx="645.20" cy="139.69" r="0.35"/><circle cx="646.24" cy="140.72" r="0.41"/><circle cx="647.28" cy="141.67" r="0.47"/><circle cx="648.32" cy="142.53" r="0.53"/><circle cx="649.36" cy="143.13" r="0.58"/><circle cx="650.40" cy="143.29" r="0.64"/><circle cx="651.44" cy="143.00" r="0.68"/><circle cx="652.48" cy="142.43" r="0.71"/><circle cx="653.52" cy="141.78" r="0.74"/><circle cx="654.56" cy="141.18" r="0.76"/><circle cx="655.60" cy="140.53" r="0.77"/><circle cx="656.64" cy="139.83" r="0.78"/><circle cx="657.68" cy="139.12" r="0.79"/><circle cx="658.72" cy="138.46" r="0.79"/><circle cx="659.76" cy="137.87" r="0.79"/><circle cx="660.80" cy="137.35" r="0.80"/><circle cx="661.84" cy="136.87" r="0.80"/><circle cx="662.88" cy="136.42" r="0.80"/><circle cx="663.92" cy="136.01" r="0.80"/><circle cx="664.96" cy="135.63" r="0.80"/></g><g fill="#0000ff"><circle cx="624.40" cy="221.70" r="0.80"/><circle cx="625.44" cy="217.60" r="0.80"/><circle cx="626.48" cy="213.57" r="0.80"/><circle cx="627.52" cy="209.62" r="0.80"/><circle cx="628.56" cy="205.75" r="0.80"/><circle cx="629.60" cy="201.94" r="0.80"/><circle cx="630.64" cy="198.21" r="0.80"/><circle cx="631.68" cy="194.55" r="0.80"/><circle cx="632.72" cy="190.96" r="0.80"/><circle cx="633.76" cy="187.37" r="0.80"/><circle cx="634.80" cy="183.72" r="0.80"/><circle cx="635.84" cy="180.11" r="0.80"/><circle cx="636.88" cy="176.66" r="0.80"/><circle cx="637.92" cy="173.51" r="0.80"/><circle cx="638.96" cy="170.78" r="0.80"/><circle cx="640.00" cy="168.55" r="0.80"/><circle cx="641.04" cy="166.66" r="0.80"/><circle cx="642.08" cy="164.97" r="0.80"/><circle cx="643.12" cy="163.32" r="0.79"/><circle cx="644.16" cy="161.58" r="0.79"/><circle cx="645.20" cy="159.75" r="0.78"/><circle cx="646.24" cy="157.98" r="0.77"/><circle cx="647.28" cy="156.39" r="0.76"/><circle cx="648.32" cy="154.86" r="0.73"/><circle cx="649.36" cy="153.51" r="0.69"/><circle cx="650.40" cy="152.69" r="0.64"/><circle cx="651.44" cy="152.20" r="0.57"/><circle cx="652.48" cy="152.00" r="0.49"/><circle cx="653.52" cy="152.11" r="0.41"/><circle cx="654.56" cy="152.37" r="0.34"/><circle cx="655.60" cy="152.69" r="0.27"/><circle cx="656.64" cy="153.00" r="0.21"/><circle cx="657.68" cy="153.38" r="0.17"/><circle cx="658.72" cy="153.81" r="0.13"/><circle cx="659.76" cy="154.24" r="0.10"/><circle cx="660.80" cy="154.60" r="0.08"/><circle cx="661.84" cy="154.91" r="0.06"/></g><g fill="#0000ff"><circle cx="666.00" cy="135.30" r="0.90"/><circle cx="667.04" cy="133.71" r="0.90"/><circle cx="668.08" cy="131.55" r="0.90"/><circle cx="669.12" cy="128.95" r="0.90"/><circle cx="670.16" cy="125.83" r="0.90"/><circle cx="671.20" cy="122.87" r="0.87"/><circle cx="672.24" cy="120.21" r="0.84"/><circle cx="673.28" cy="117.94" r="0.82"/><circle cx="674.32" cy="116.33" r="0.79"/><circle cx="675.36" cy="113.66" r="0.77"/><circle cx="676.40" cy="110.11" r="0.74"/><circle cx="677.44" cy="107.15" r="0.71"/><circle cx="678.48" cy="104.53" r="0.69"/><circle cx="679.52" cy="102.20" r="0.66"/><circle cx="680.56" cy="100.35" r="0.64"/><circle cx="681.60" cy="98.86" r="0.61"/><circle cx="682.64" cy="97.57" r="0.60"/><circle cx="683.68" cy="96.43" r="0.60"/><circle cx="684.72" cy="95.37" r="0.58"/><circle cx="685.76" cy="94.35" r="0.55"/><circle cx="686.80" cy="93.38" r="0.52"/><circle cx="687.84" cy="92.47" r="0.48"/><circle cx="688.88" cy="91.62" r="0.45"/><circle cx="689.92" cy="90.81" r="0.42"/><circle cx="690.96" cy="90.04" r="0.39"/><circle cx="692.00" cy="89.31" r="0.36"/><circle cx="693.04" cy="88.61" r="0.33"/><circle cx="694.08" cy="87.95" r="0.30"/><circle cx="695.12" cy="87.30" r="0.27"/><circle cx="696.16" cy="86.66" r="0.24"/><circle cx="697.20" cy="86.02" r="0.20"/><circle cx="698.24" cy="85.39" r="0.17"/><circle cx="699.28" cy="84.77" r="0.14"/><circle cx="700.32" cy="84.16" r="0.11"/><circle cx="701.36" cy="83.56" r="0.08"/></g><g fill="#0000ff"><circle cx="666.00" cy="155.90" r="0.70"/><circle cx="667.04" cy="156.97" r="0.70"/><circle cx="668.08" cy="158.90" r="0.70"/><circle cx="669.12" cy="161.86" r="0.70"/><circle cx="670.16" cy="166.15" r="0.70"/><circle cx="671.20" cy="170.00" r="0.70"/><circle cx="672.24" cy="174.10" r="0.70"/><circle cx="673.28" cy="178.40" r="0.70"/><circle cx="674.32" cy="182.91" r="0.70"/><circle cx="675.36" cy="187.69" r="0.70"/><circle cx="676.40" cy="192.83" r="0.70"/><circle cx="677.44" cy="198.26" r="0.70"/><circle cx="678.48" cy="203.88" r="0.70"/><circle cx="679.52" cy="209.59" r="0.70"/><circle cx="680.56" cy="215.29" r="0.70"/><circle cx="681.60" cy="220.87" r="0.70"/><circle cx="682.64" cy="226.23" r="0.70"/></g></g><rect x="671.4" y="184.7" width="100.3" height="36.2" rx="1.6" fill="#fff" fill-opacity="0.8" stroke="#ccc" stroke-width="0.8"/><circle cx="681.5" cy="191.3" r="2.6" fill="#ff0000"/><text x="694.1" y="193.2" class="lg"><tspan>Ag (</tspan><tspan class="it">d</tspan><tspan class="sb" dy="1.40">yz</tspan><tspan dy="-1.40" dx="0.90">), La (</tspan><tspan class="it">d</tspan><tspan class="sb" dy="1.40">x</tspan><tspan class="ss" dy="-1.60">2</tspan><tspan class="sb" dy="1.60"> − y</tspan><tspan class="ss" dy="-1.60">2</tspan><tspan dy="0.20" dx="0.50">)</tspan></text><circle cx="681.5" cy="202.6" r="2.6" fill="#008000"/><text x="694.1" y="204.5" class="lg"><tspan>Ag (</tspan><tspan class="it">p</tspan><tspan class="sb" dy="1.40">z</tspan><tspan dy="-1.40" dx="0.90">), La (</tspan><tspan class="it">f</tspan><tspan class="sb" dy="1.40">y(3x</tspan><tspan class="ss" dy="-1.60">2</tspan><tspan class="sb" dy="1.60"> − y</tspan><tspan class="ss" dy="-1.60">2</tspan><tspan class="sb" dy="1.60">)</tspan><tspan dy="-1.40" dx="0.50">)</tspan></text><circle cx="681.5" cy="214.3" r="2.6" fill="#0000ff"/><text x="694.1" y="216.2" class="lg"><tspan>Ag (</tspan><tspan class="it">p</tspan><tspan class="sb" dy="1.40">y</tspan><tspan dy="-1.40" dx="0.90">), La (</tspan><tspan class="it">f</tspan><tspan class="sb" dy="1.40">z(x</tspan><tspan class="ss" dy="-1.60">2</tspan><tspan class="sb" dy="1.60"> − y</tspan><tspan class="ss" dy="-1.60">2</tspan><tspan class="sb" dy="1.60">)</tspan><tspan dy="-1.40" dx="0.50">)</tspan></text><rect x="531.5" y="47.5" width="243.0" height="177.5" fill="none" stroke="#555" stroke-width="0.7"/><text x="529.7" y="52.60" text-anchor="end" class="tk">1.1</text><line x1="531.5" y1="106.67" x2="534.7" y2="106.67" stroke="#333" stroke-width="0.7"/><text x="529.7" y="111.77" text-anchor="end" class="tk">1.0</text><line x1="531.5" y1="165.83" x2="534.7" y2="165.83" stroke="#333" stroke-width="0.7"/><text x="529.7" y="170.93" text-anchor="end" class="tk">0.9</text><text x="529.7" y="230.10" text-anchor="end" class="tk">0.8</text><text x="531.2" y="237.7" class="xl">A</text><text x="544.1" y="237.2" class="xl ar">←</text><text x="666.7" y="237.7" class="xl" text-anchor="middle">R</text><text x="780.1" y="237.7" class="xl" text-anchor="end">X</text><text x="767.2" y="237.2" class="xl ar" text-anchor="end">→</text><text transform="translate(500.5,131.3) rotate(-90)" text-anchor="middle" class="yl">Energy (eV)</text><text x="487.9" y="18.7" class="pl" style="letter-spacing:-0.3px">(d)</text></svg></body></html>
